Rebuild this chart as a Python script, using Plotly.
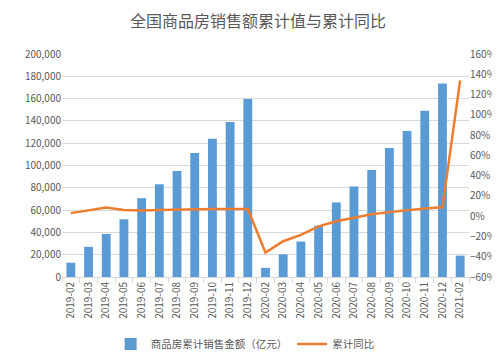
import plotly.graph_objects as go

months = ["2019-02", "2019-03", "2019-04", "2019-05", "2019-06", "2019-07", "2019-08",
          "2019-09", "2019-10", "2019-11", "2019-12", "2020-02", "2020-03", "2020-04",
          "2020-05", "2020-06", "2020-07", "2020-08", "2020-09", "2020-10", "2020-11",
          "2020-12", "2021-02"]
sales = [12803, 27039, 38658, 51773, 70698, 83079, 95120, 111274, 123992, 139008, 159725,
         8203, 20365, 31800, 46000, 66895, 81119, 96000, 115647, 131000, 149000, 173613, 19151]
yoy = [3.0, 5.8, 8.5, 6.2, 5.6, 6.0, 6.5, 7.0, 7.2, 7.2, 7.0,
       -35.9, -24.7, -18.5, -10.0, -5.0, -1.8, 2.0, 4.0, 6.0, 7.5, 8.7, 134.0]

bar_name = "商品房累计销售金额（亿元）"
line_name = "累计同比"

font_family = "Noto Sans CJK SC, sans-serif"
grey = "#595959"

fig = go.Figure()
fig.add_trace(go.Bar(x=months, y=sales, name=bar_name, marker_color="#5B9BD5",
                     marker_line_width=0, yaxis="y"))
fig.add_trace(go.Scatter(x=months, y=yoy, name=line_name, mode="lines",
                         line=dict(color="#ED7D31", width=2.5), yaxis="y2"))

fig.update_layout(
    width=500, height=363,
    margin=dict(l=54, r=39, t=46, b=87),
    paper_bgcolor="white", plot_bgcolor="white",
    font=dict(family=font_family, size=10, color=grey),
    title=dict(text="全国商品房销售额累计值与累计同比", x=0.5, xanchor="center",
               y=1, yref="container", yanchor="top", pad=dict(t=8),
               font=dict(size=16, color=grey, family=font_family)),
    bargap=0.5,
    showlegend=True,
    legend=dict(orientation="h", x=0.45, xanchor="center", y=-0.30, yanchor="middle",
                font=dict(size=10.5, color=grey), itemwidth=30, tracegroupgap=0),
    xaxis=dict(type="category", tickangle=-90, tickfont=dict(size=10, color=grey),
               showline=True, linecolor="#D9D9D9", linewidth=1, automargin=False,
               ticks="outside", tickson="boundaries", ticklen=5, tickcolor="#D9D9D9",
               showgrid=False),
    yaxis=dict(range=[0, 200000], dtick=20000, tickformat=",", gridcolor="#D9D9D9",
               tickfont=dict(size=10, color=grey), zeroline=False, showline=False,
               ticks="", automargin=False),
    yaxis2=dict(range=[-60, 160], dtick=20, ticksuffix="%", overlaying="y", side="right",
                showgrid=False, zeroline=False, automargin=False,
                tickfont=dict(size=10, color=grey)),
)

fig.write_html("out.html")
